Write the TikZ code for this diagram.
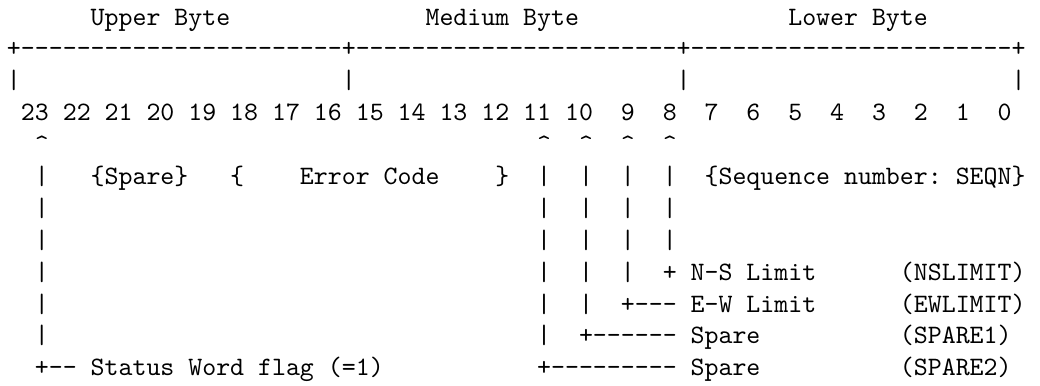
\documentclass[tikz,border=0pt]{standalone}
\usepackage{tikz}
\frenchspacing
\newcommand\dashrun[1]{\foreach \k in {1,...,#1}{-\kern0pt}}
\begin{document}
\begin{tikzpicture}[x=5.25pt,y=12pt,
  txt/.style={anchor=base west,inner sep=0pt,outer sep=0pt,
    font=\ttfamily\fontsize{10pt}{12pt}\selectfont},
  num/.style={txt,anchor=base east}]
\useasboundingbox (-2.63pt,9.41pt) rectangle (388.7pt,-135.5pt);
% row 1: byte titles
\node[txt] (upper) at (6,0) {Upper Byte};
\node[txt] (medium) at (30,0) {Medium Byte};
\node[txt] (lower) at (56,0) {Lower Byte};
% row 2: frame
\node[txt] (frame) at (0,-1) {+\dashrun{23}+\dashrun{23}+\dashrun{23}+};
% row 3: bars
\foreach \c [count=\j] in {0,24,48,72}
  \node[txt] (fb\j) at (\c,-2) {|};
% row 4: bit numbers
\foreach \b [count=\i from 0] in {23,22,...,0}
  \node[num] (n\b) at ({3*\i+3},-3) {\b};
% row 5: carets
\foreach \c in {2,38,41,44,47}
  \node[txt] (hat\c) at (\c,-4) {\textasciicircum};
% row 6
\foreach \c in {2,38,41,44,47}
  \node[txt] (va\c) at (\c,-5) {|};
\node[txt] (spare) at (6,-5) {\{Spare\}};
\node[txt] (lbrace) at (16,-5) {\{};
\node[txt] (errcode) at (21,-5) {Error Code};
\node[txt] (rbrace) at (35,-5) {\}};
\node[txt] (seqn) at (50,-5) {\{Sequence number: SEQN\}};
% rows 7, 8
\foreach \c in {2,38,41,44,47}{
  \node[txt] (vb\c) at (\c,-6) {|};
  \node[txt] (vc\c) at (\c,-7) {|};
}
% row 9
\foreach \c in {2,38,41,44}
  \node[txt] (vd\c) at (\c,-8) {|};
\node[txt] (j8) at (47,-8) {+};
\node[txt] (ns) at (49,-8) {N-S Limit};
\node[txt] (nsl) at (64,-8) {(NSLIMIT)};
% row 10
\foreach \c in {2,38,41}
  \node[txt] (ve\c) at (\c,-9) {|};
\node[txt] (j9) at (44,-9) {+\dashrun{3}};
\node[txt] (ew) at (49,-9) {E-W Limit};
\node[txt] (ewl) at (64,-9) {(EWLIMIT)};
% row 11
\foreach \c in {2,38}
  \node[txt] (vf\c) at (\c,-10) {|};
\node[txt] (j10) at (41,-10) {+\dashrun{6}};
\node[txt] (sp1) at (49,-10) {Spare};
\node[txt] (sp1l) at (64,-10) {(SPARE1)};
% row 12
\node[txt] (j23) at (2,-11) {+\dashrun{2}};
\node[txt] (status) at (6,-11) {Status Word flag (=1)};
\node[txt] (j11) at (38,-11) {+\dashrun{9}};
\node[txt] (sp2) at (49,-11) {Spare};
\node[txt] (sp2l) at (64,-11) {(SPARE2)};
\end{tikzpicture}
\end{document}
